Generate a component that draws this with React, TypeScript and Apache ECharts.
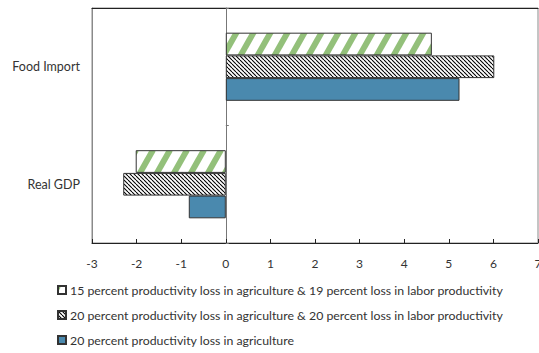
import React, { useEffect, useRef } from "react";
import * as echarts from "echarts";

const categories = ["Real GDP", "Food Import"];
const seriesNames = [
  "15 percent productivity loss in agriculture & 19 percent loss in labor productivity",
  "20 percent productivity loss in agriculture & 20 percent loss in labor productivity",
  "20 percent productivity loss in agriculture",
];
const greenValues = [-2.02, 4.62];
const hatchValues = [-2.3, 6.02];
const blueValues = [-0.83, 5.24];
const xTicks = { min: -3, max: 7, interval: 1 };

function stripePattern(): HTMLCanvasElement {
  const w = 17;
  const h = 30;
  const c = document.createElement("canvas");
  c.width = w;
  c.height = h;
  const g = c.getContext("2d")!;
  g.fillStyle = "#ffffff";
  g.fillRect(0, 0, w, h);
  g.strokeStyle = "#93c07a";
  g.lineWidth = 6;
  for (const x0 of [-w, 0, w]) {
    g.beginPath();
    g.moveTo(x0, h);
    g.lineTo(x0 + w, 0);
    g.stroke();
  }
  return c;
}

function hatchPattern(): HTMLCanvasElement {
  const c = document.createElement("canvas");
  c.width = 4;
  c.height = 4;
  const g = c.getContext("2d")!;
  g.fillStyle = "#ffffff";
  g.fillRect(0, 0, 4, 4);
  g.strokeStyle = "#000000";
  g.lineWidth = 1.1;
  for (const x0 of [-4, 0, 4]) {
    g.beginPath();
    g.moveTo(x0, 0);
    g.lineTo(x0 + 4, 4);
    g.stroke();
  }
  return c;
}

export default function App() {
  const ref = useRef<HTMLDivElement>(null);
  useEffect(() => {
    const chart = echarts.init(ref.current!, null, { renderer: "svg" });
    const font = "Lato";
    const values = [greenValues, hatchValues, blueValues];
    const colors: any[] = [
      { image: stripePattern(), repeat: "repeat" },
      { image: hatchPattern(), repeat: "repeat" },
      "#4a89ae",
    ];
    chart.setOption({
      animation: false,
      textStyle: { fontFamily: font },
      grid: {
        left: 92,
        right: 1,
        top: 8,
        bottom: 110,
        show: true,
        borderColor: "#8a8a8a",
        borderWidth: 1,
        outerBoundsMode: "none",
        containLabel: false,
      },
      legend: {
        orient: "vertical",
        left: 57,
        top: 284,
        padding: 0,
        itemWidth: 8,
        itemHeight: 8,
        itemGap: 13,
        icon: "rect",
        data: seriesNames,
        textStyle: { fontFamily: font, fontSize: 12.3, color: "#333", padding: [0, 0, 0, -1] },
      },
      xAxis: [
        {
          type: "value",
          min: xTicks.min,
          max: xTicks.max,
          interval: xTicks.interval,
          position: "bottom",
          splitLine: { show: false },
          axisLine: { show: true, onZero: false, lineStyle: { color: "#222", width: 1 } },
          axisTick: { show: true, inside: true, length: 4, lineStyle: { color: "#222" } },
          axisLabel: { fontFamily: font, fontSize: 12, color: "#333", margin: 14 },
        },
        {
          type: "value",
          min: xTicks.min,
          max: xTicks.max,
          interval: xTicks.interval,
          position: "top",
          splitLine: { show: false },
          axisLine: { show: true, onZero: false, lineStyle: { color: "#222", width: 1 } },
          axisTick: { show: false },
          axisLabel: { show: false },
        },
      ],
      yAxis: [
        {
          type: "category",
          data: categories,
          position: "left",
          axisLine: { show: true, onZero: false, lineStyle: { color: "#8a8a8a" } },
          axisTick: { show: false },
          axisLabel: { fontFamily: font, fontSize: 12.5, color: "#333", margin: 12 },
        },
        {
          type: "category",
          data: categories,
          position: "right",
          axisLine: { show: true, onZero: true, lineStyle: { color: "#777" } },
          axisTick: { show: true, length: 3, lineStyle: { color: "#777" } },
          axisLabel: { show: false },
        },
      ],
      series: seriesNames.map((name, i) => ({
        name,
        type: "bar",
        data: values[i],
        barGap: "0%",
        barCategoryGap: "42%",
        itemStyle: { color: colors[i], borderColor: "#333", borderWidth: 1 },
      })),
    });
    return () => chart.dispose();
  }, []);
  return <div ref={ref} style={{ width: 539, height: 353, position: "absolute", left: 0, top: 0 }} />;
}
